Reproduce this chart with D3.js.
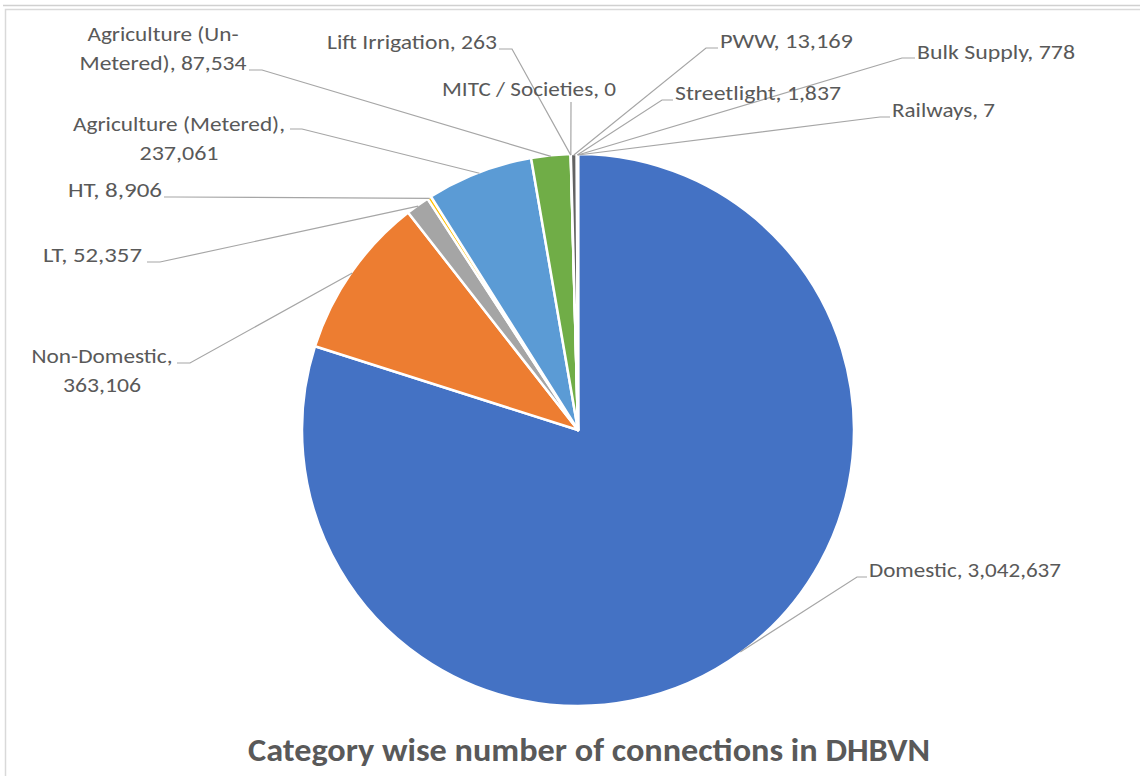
<!DOCTYPE html>
<html>
<head>
<meta charset="utf-8">
<script src="https://cdn.jsdelivr.net/npm/d3@7"></script>
<style>
  html, body { margin: 0; padding: 0; background: #ffffff; }
  svg { display: block; }
  text { font-family: Carlito, Lato, "Open Sans", sans-serif; }
</style>
</head>
<body>
<svg id="chart" width="1140" height="776"></svg>
<script>
// ---- data ----
const categories = ["Domestic", "Non-Domestic", "LT", "HT", "Agriculture (Metered)",
  "Agriculture (Un-Metered)", "Lift Irrigation", "MITC / Societies", "PWW",
  "Streetlight", "Bulk Supply", "Railways"];
const connections = [3042637, 363106, 52357, 8906, 237061, 87534, 263, 0, 13169, 1837, 778, 7];
const colors = ["#4472C4", "#ED7D31", "#A5A5A5", "#FFC000", "#5B9BD5", "#70AD47",
  "#264478", "#9E480E", "#636363", "#997300", "#255E91", "#43682B"];
const titleText = "Category wise number of connections in DHBVN";

// ---- label layout (text lines, line widths, anchor, leader start & knee) ----
const labelLayout = [
  { lines: ["Domestic, 3,042,637"], w: [192], x: 869, y: 577, anchor: "start", lead: [[867, 577], [857, 577]] },
  { lines: ["Non-Domestic,", "363,106"], w: [141, 78], x: 102, y: 363, anchor: "middle", lead: [[177, 363], [190, 363]] },
  { lines: ["LT, 52,357"], w: [99], x: 43, y: 262, anchor: "start", lead: [[147, 262], [160, 262]] },
  { lines: ["HT, 8,906"], w: [94], x: 68, y: 197, anchor: "start", lead: [[164, 197], [175, 197]] },
  { lines: ["Agriculture (Metered),", "237,061"], w: [212, 79], x: 179, y: 131, anchor: "middle", lead: [[290, 129], [302, 129]] },
  { lines: ["Agriculture (Un-", "Metered), 87,534"], w: [151, 167], x: 163, y: 41, anchor: "middle", lead: [[249, 70], [262, 70]] },
  { lines: ["Lift Irrigation, 263"], w: [170], x: 327, y: 49, anchor: "start", lead: [[499, 49], [512, 49]] },
  { lines: ["MITC / Societies, 0"], w: [174], x: 442, y: 96, anchor: "start", lead: [[571, 102], [571, 104]] },
  { lines: ["PWW, 13,169"], w: [133], x: 720, y: 48, anchor: "start", lead: [[718, 48], [706, 48]] },
  { lines: ["Streetlight, 1,837"], w: [166], x: 675, y: 100, anchor: "start", lead: [[673, 100], [662, 100]] },
  { lines: ["Bulk Supply, 778"], w: [158], x: 917, y: 59, anchor: "start", lead: [[915, 58], [902, 58]] },
  { lines: ["Railways, 7"], w: [103], x: 892, y: 117, anchor: "start", lead: [[890, 117], [880, 117]] }
];

const svg = d3.select("#chart");
const cx = 578, cy = 430, R = 276;

// frame pieces
svg.append("line").attr("x1", 3).attr("x2", 1140).attr("y1", 5.5).attr("y2", 5.5)
  .attr("stroke", "#d0d0d0").attr("stroke-width", 1.5);
svg.append("rect").attr("x", 5.5).attr("y", 9.5).attr("width", 1200).attr("height", 800)
  .attr("fill", "#ffffff").attr("stroke", "#d9d9d9").attr("stroke-width", 1.5);

const data = categories.map((c, i) => ({ name: c, value: connections[i], color: colors[i] }));

const pie = d3.pie().sort(null).value(d => d.value).startAngle(0).endAngle(2 * Math.PI);
const arcs = pie(data);
const arc = d3.arc().innerRadius(0).outerRadius(R);

const g = svg.append("g").attr("transform", `translate(${cx},${cy})`);
g.selectAll("path.slice").data(arcs).enter().append("path")
  .attr("class", "slice")
  .attr("d", arc)
  .attr("fill", d => d.data.color)
  .attr("stroke", "#ffffff")
  .attr("stroke-width", 2.5)
  .attr("stroke-linejoin", "round");

// leader lines
arcs.forEach((a, i) => {
  const L = labelLayout[i];
  const mid = (a.startAngle + a.endAngle) / 2;
  const ex = cx + (R - 1) * Math.sin(mid);
  const ey = cy - (R - 1) * Math.cos(mid);
  const pts = [L.lead[0], L.lead[1], [ex, ey]];
  svg.append("path")
    .attr("d", d3.line()(pts))
    .attr("fill", "none")
    .attr("stroke", "#a6a6a6")
    .attr("stroke-width", 1.2);
});

// labels
labelLayout.forEach((L, i) => {
  const t = svg.append("text")
    .attr("text-anchor", L.anchor)
    .attr("fill", "#595959")
    .attr("font-size", 21);
  L.lines.forEach((ln, j) => {
    t.append("tspan").attr("x", L.x).attr("y", L.y + j * 29)
      .attr("textLength", L.w[j]).attr("lengthAdjust", "spacingAndGlyphs")
      .text(ln);
  });
});

// title
svg.append("text")
  .attr("x", 589).attr("y", 761)
  .attr("text-anchor", "middle")
  .attr("fill", "#595959")
  .attr("font-size", 33)
  .attr("font-weight", "bold")
  .attr("textLength", 682).attr("lengthAdjust", "spacingAndGlyphs")
  .text(titleText);
</script>
</body>
</html>
